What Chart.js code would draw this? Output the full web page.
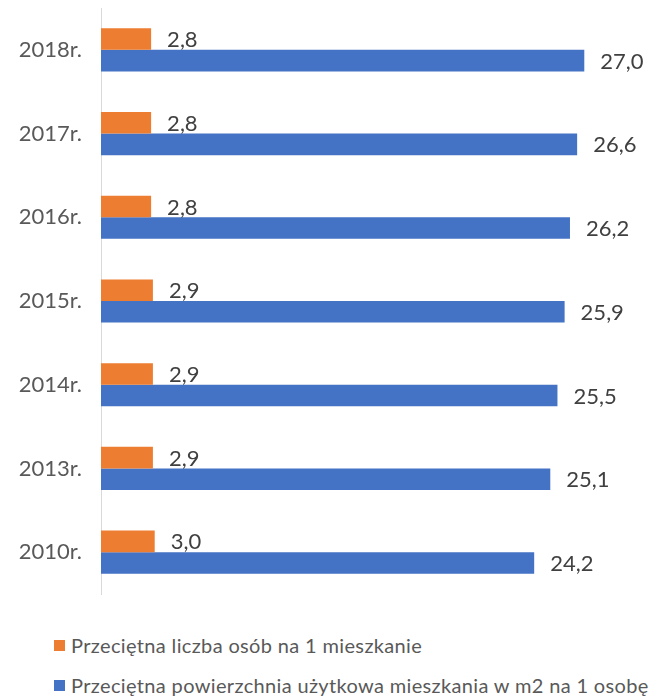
<!DOCTYPE html>
<html lang="pl">
<head>
<meta charset="utf-8">
<title>Warunki mieszkaniowe</title>
<script src="https://cdn.jsdelivr.net/npm/chart.js@4.4.1/dist/chart.umd.min.js"></script>
<style>
    html, body {
        margin: 0;
        padding: 0;
        background: #ffffff;
        overflow: hidden;
    }
    #wrap {
        position: relative;
        width: 660px;
        height: 697px;
    }
    #chartBox {
        position: absolute;
        left: 0;
        top: 0;
        width: 660px;
        height: 600px;
    }
    #legend {
        position: absolute;
        left: 54px;
        top: 625px;
        font-family: Lato, "Open Sans", sans-serif;
        font-size: 20px;
        letter-spacing: 0.35px;
        color: #595959;
    }
    #legend .row {
        display: flex;
        align-items: center;
        height: 40px;
        white-space: nowrap;
    }
    #legend .box {
        width: 11px;
        height: 11px;
        margin-right: 6px;
        flex: none;
    }
</style>
</head>
<body>
<div id="wrap">
    <div id="chartBox"><canvas id="chart"></canvas></div>
    <div id="legend"></div>
</div>
<script>
const YEARS = ['2018r.', '2017r.', '2016r.', '2015r.', '2014r.', '2013r.', '2010r.'];

const PERSONS_PER_DWELLING = [2.8, 2.8, 2.8, 2.9, 2.9, 2.9, 3.0];
const AREA_PER_PERSON = [27.0, 26.6, 26.2, 25.9, 25.5, 25.1, 24.2];

const SERIES_NAMES = [
    'Przeciętna liczba osób na 1 mieszkanie',
    'Przeciętna powierzchnia użytkowa mieszkania w m2 na 1 osobę'
];

const COLORS = ['#ed7d31', '#4472c4'];

const FONT = 'Lato, "Open Sans", sans-serif';

// polish decimal comma
const fmt = (v) => v.toFixed(1).replace('.', ',');

// value labels next to the end of each bar
const valueLabels = {
    id: 'valueLabels',
    afterDatasetsDraw(chart) {
        const ctx = chart.ctx;
        ctx.save();
        ctx.font = '22px ' + FONT;
        ctx.fillStyle = '#404040';
        ctx.textAlign = 'left';
        ctx.textBaseline = 'middle';
        chart.data.datasets.forEach((ds, i) => {
            chart.getDatasetMeta(i).data.forEach((bar, j) => {
                ctx.fillText(fmt(ds.data[j]), bar.x + 16, bar.y + 1);
            });
        });
        ctx.restore();
    }
};

document.addEventListener('DOMContentLoaded', () => {
    const canvas = document.getElementById('chart');

    const config = {
        type: 'bar',
        data: {
            labels: YEARS,
            datasets: [
                {
                    label: SERIES_NAMES[0],
                    data: PERSONS_PER_DWELLING,
                    backgroundColor: COLORS[0]
                },
                {
                    label: SERIES_NAMES[1],
                    data: AREA_PER_PERSON,
                    backgroundColor: COLORS[1]
                }
            ]
        },
        options: {
            indexAxis: 'y',
            responsive: true,
            maintainAspectRatio: false,
            animation: false,
            datasets: {
                bar: {
                    categoryPercentage: 0.515,
                    barPercentage: 1.0
                }
            },
            layout: {
                padding: {top: 8, bottom: 6, left: 0, right: 22}
            },
            scales: {
                x: {
                    display: false,
                    min: 0,
                    max: 30
                },
                y: {
                    grid: {
                        display: false,
                        drawTicks: false
                    },
                    border: {
                        display: true,
                        color: '#d9d9d9',
                        width: 1
                    },
                    ticks: {
                        padding: 19,
                        color: '#595959',
                        font: {family: FONT, size: 22}
                    },
                    afterFit(scale) {
                        scale.width = 101;
                        // no extra room above / below the axis
                        scale.paddingTop = 0;
                        scale.paddingBottom = 0;
                    }
                }
            },
            plugins: {
                legend: {display: false},
                tooltip: {enabled: false}
            }
        },
        plugins: [valueLabels]
    };

    new Chart(canvas, config);

    // legend built from the same series
    const legend = document.getElementById('legend');
    SERIES_NAMES.forEach((name, i) => {
        const row = document.createElement('div');
        row.className = 'row';
        const box = document.createElement('span');
        box.className = 'box';
        box.style.background = COLORS[i];
        const text = document.createElement('span');
        text.textContent = name;
        row.appendChild(box);
        row.appendChild(text);
        legend.appendChild(row);
    });
});
</script>
</body>
</html>
